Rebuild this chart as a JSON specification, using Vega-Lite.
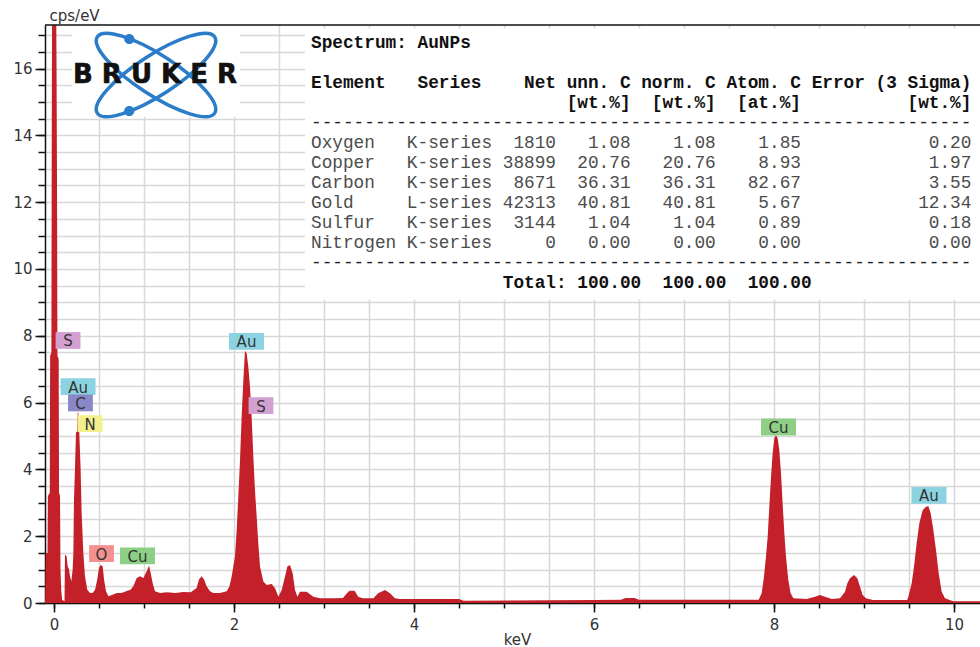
{
  "$schema": "https://vega.github.io/schema/vega-lite/v6.json",
  "width": 935,
  "height": 578,
  "autosize": {"type": "none"},
  "padding": {"left": 45, "top": 25, "right": 0, "bottom": 44},
  "background": "white",
  "config": {
    "view": {"stroke": null},
    "axis": {
      "domainColor": "#111111",
      "domainWidth": 1.5,
      "tickColor": "#111111",
      "tickWidth": 1.5,
      "gridColor": "#d8d8d8",
      "gridWidth": 1.5,
      "labelFont": "DejaVu Sans",
      "labelFontSize": 15,
      "labelColor": "#333333",
      "titleFont": "DejaVu Sans",
      "titleFontSize": 15,
      "titleFontWeight": "normal",
      "titleColor": "#333333",
      "labelOverlap": false
    }
  },
  "resolve": {"axis": {"x": "independent", "y": "independent"}},
  "datasets": {
    "spectrum": [
      {"keV": -0.1, "cps": 0}, {"keV": -0.097, "cps": 0.3}, {"keV": -0.092, "cps": 1.5}, {"keV": -0.072, "cps": 1.5},
      {"keV": -0.068, "cps": 3.2}, {"keV": -0.047, "cps": 3.3}, {"keV": -0.043, "cps": 7.4}, {"keV": -0.029, "cps": 7.5},
      {"keV": -0.025, "cps": 14}, {"keV": -0.02, "cps": 19}, {"keV": 0, "cps": 22}, {"keV": 0.024, "cps": 18},
      {"keV": 0.028, "cps": 16.2}, {"keV": 0.034, "cps": 12.3}, {"keV": 0.038, "cps": 7.4}, {"keV": 0.052, "cps": 7.3},
      {"keV": 0.056, "cps": 3.3}, {"keV": 0.067, "cps": 3.2}, {"keV": 0.072, "cps": 1.0}, {"keV": 0.08, "cps": 0.4},
      {"keV": 0.09, "cps": 0.1}, {"keV": 0.117, "cps": 0.05}, {"keV": 0.122, "cps": 1.45}, {"keV": 0.14, "cps": 1.4},
      {"keV": 0.152, "cps": 1.1}, {"keV": 0.167, "cps": 1.0}, {"keV": 0.178, "cps": 0.8}, {"keV": 0.193, "cps": 0.65},
      {"keV": 0.207, "cps": 1.0}, {"keV": 0.215, "cps": 1.5}, {"keV": 0.222, "cps": 3.1}, {"keV": 0.233, "cps": 4.0},
      {"keV": 0.244, "cps": 5.1}, {"keV": 0.258, "cps": 5.15}, {"keV": 0.263, "cps": 5.7}, {"keV": 0.27, "cps": 5.7},
      {"keV": 0.281, "cps": 5.1}, {"keV": 0.296, "cps": 4.0}, {"keV": 0.307, "cps": 2.7}, {"keV": 0.326, "cps": 1.5},
      {"keV": 0.344, "cps": 0.8}, {"keV": 0.37, "cps": 0.4}, {"keV": 0.4, "cps": 0.3}, {"keV": 0.43, "cps": 0.3},
      {"keV": 0.456, "cps": 0.4}, {"keV": 0.481, "cps": 0.7}, {"keV": 0.5, "cps": 1.05}, {"keV": 0.519, "cps": 1.14},
      {"keV": 0.541, "cps": 1.1}, {"keV": 0.556, "cps": 0.7}, {"keV": 0.578, "cps": 0.35}, {"keV": 0.604, "cps": 0.2},
      {"keV": 0.65, "cps": 0.25}, {"keV": 0.7, "cps": 0.3}, {"keV": 0.75, "cps": 0.3}, {"keV": 0.8, "cps": 0.35},
      {"keV": 0.85, "cps": 0.4}, {"keV": 0.881, "cps": 0.5}, {"keV": 0.919, "cps": 0.75}, {"keV": 0.956, "cps": 0.8},
      {"keV": 0.993, "cps": 0.75}, {"keV": 1.03, "cps": 0.95}, {"keV": 1.056, "cps": 1.12}, {"keV": 1.074, "cps": 0.9},
      {"keV": 1.096, "cps": 0.6}, {"keV": 1.122, "cps": 0.35}, {"keV": 1.178, "cps": 0.3}, {"keV": 1.25, "cps": 0.32},
      {"keV": 1.35, "cps": 0.3}, {"keV": 1.437, "cps": 0.33}, {"keV": 1.52, "cps": 0.32}, {"keV": 1.585, "cps": 0.45},
      {"keV": 1.611, "cps": 0.7}, {"keV": 1.641, "cps": 0.8}, {"keV": 1.667, "cps": 0.7}, {"keV": 1.696, "cps": 0.5},
      {"keV": 1.733, "cps": 0.35}, {"keV": 1.77, "cps": 0.3}, {"keV": 1.844, "cps": 0.3}, {"keV": 1.919, "cps": 0.35},
      {"keV": 1.95, "cps": 0.5}, {"keV": 1.974, "cps": 0.79}, {"keV": 2.011, "cps": 1.39}, {"keV": 2.03, "cps": 2.19},
      {"keV": 2.048, "cps": 3.18}, {"keV": 2.067, "cps": 4.28}, {"keV": 2.085, "cps": 5.58}, {"keV": 2.104, "cps": 6.68},
      {"keV": 2.122, "cps": 7.55}, {"keV": 2.141, "cps": 7.47}, {"keV": 2.159, "cps": 7.07}, {"keV": 2.178, "cps": 6.47},
      {"keV": 2.196, "cps": 5.58}, {"keV": 2.215, "cps": 4.38}, {"keV": 2.233, "cps": 3.38}, {"keV": 2.252, "cps": 2.58},
      {"keV": 2.27, "cps": 1.79}, {"keV": 2.289, "cps": 1.09}, {"keV": 2.326, "cps": 0.64}, {"keV": 2.363, "cps": 0.54},
      {"keV": 2.419, "cps": 0.57}, {"keV": 2.456, "cps": 0.44}, {"keV": 2.493, "cps": 0.19}, {"keV": 2.53, "cps": 0.39},
      {"keV": 2.567, "cps": 0.79}, {"keV": 2.593, "cps": 1.09}, {"keV": 2.622, "cps": 1.14}, {"keV": 2.652, "cps": 0.89},
      {"keV": 2.678, "cps": 0.39}, {"keV": 2.704, "cps": 0.19}, {"keV": 2.733, "cps": 0.34}, {"keV": 2.807, "cps": 0.34},
      {"keV": 2.881, "cps": 0.19}, {"keV": 2.956, "cps": 0.14}, {"keV": 3.1, "cps": 0.14}, {"keV": 3.21, "cps": 0.15},
      {"keV": 3.27, "cps": 0.34}, {"keV": 3.29, "cps": 0.37}, {"keV": 3.34, "cps": 0.37}, {"keV": 3.38, "cps": 0.19},
      {"keV": 3.43, "cps": 0.14}, {"keV": 3.55, "cps": 0.14}, {"keV": 3.6, "cps": 0.29}, {"keV": 3.678, "cps": 0.39},
      {"keV": 3.733, "cps": 0.29}, {"keV": 3.789, "cps": 0.14}, {"keV": 3.84, "cps": 0.12}, {"keV": 4.5, "cps": 0.12},
      {"keV": 4.55, "cps": 0.07}, {"keV": 5.5, "cps": 0.08}, {"keV": 6.0, "cps": 0.09}, {"keV": 6.3, "cps": 0.1},
      {"keV": 6.35, "cps": 0.15}, {"keV": 6.45, "cps": 0.15}, {"keV": 6.5, "cps": 0.1}, {"keV": 7.0, "cps": 0.1},
      {"keV": 7.5, "cps": 0.1}, {"keV": 7.83, "cps": 0.1}, {"keV": 7.863, "cps": 0.29}, {"keV": 7.889, "cps": 0.79},
      {"keV": 7.911, "cps": 1.39}, {"keV": 7.93, "cps": 1.99}, {"keV": 7.948, "cps": 2.88}, {"keV": 7.967, "cps": 3.78},
      {"keV": 7.985, "cps": 4.48}, {"keV": 8.004, "cps": 4.93}, {"keV": 8.022, "cps": 5.03}, {"keV": 8.041, "cps": 4.93},
      {"keV": 8.059, "cps": 4.58}, {"keV": 8.078, "cps": 3.88}, {"keV": 8.096, "cps": 2.98}, {"keV": 8.115, "cps": 2.09},
      {"keV": 8.133, "cps": 1.39}, {"keV": 8.159, "cps": 0.69}, {"keV": 8.185, "cps": 0.29}, {"keV": 8.215, "cps": 0.14},
      {"keV": 8.363, "cps": 0.12}, {"keV": 8.456, "cps": 0.19}, {"keV": 8.511, "cps": 0.24}, {"keV": 8.567, "cps": 0.19},
      {"keV": 8.641, "cps": 0.12}, {"keV": 8.733, "cps": 0.14}, {"keV": 8.789, "cps": 0.34}, {"keV": 8.815, "cps": 0.59},
      {"keV": 8.844, "cps": 0.74}, {"keV": 8.889, "cps": 0.84}, {"keV": 8.926, "cps": 0.74}, {"keV": 8.956, "cps": 0.49},
      {"keV": 8.985, "cps": 0.24}, {"keV": 9.022, "cps": 0.14}, {"keV": 9.1, "cps": 0.09}, {"keV": 9.48, "cps": 0.09},
      {"keV": 9.493, "cps": 0.19}, {"keV": 9.53, "cps": 0.59}, {"keV": 9.556, "cps": 1.09}, {"keV": 9.585, "cps": 1.79},
      {"keV": 9.615, "cps": 2.39}, {"keV": 9.652, "cps": 2.78}, {"keV": 9.689, "cps": 2.88}, {"keV": 9.715, "cps": 2.9},
      {"keV": 9.741, "cps": 2.69}, {"keV": 9.77, "cps": 2.19}, {"keV": 9.8, "cps": 1.59}, {"keV": 9.83, "cps": 0.89},
      {"keV": 9.863, "cps": 0.34}, {"keV": 9.9, "cps": 0.14}, {"keV": 9.99, "cps": 0.05}, {"keV": 10.289, "cps": 0.05}
    ],
    "peaks": [
      {"element": "S", "keV": 0.156, "cps": 7.86},
      {"element": "Au", "keV": 0.267, "cps": 6.48},
      {"element": "C", "keV": 0.294, "cps": 5.99},
      {"element": "N", "keV": 0.4, "cps": 5.37},
      {"element": "O", "keV": 0.528, "cps": 1.48},
      {"element": "Cu", "keV": 0.928, "cps": 1.41},
      {"element": "Au", "keV": 2.139, "cps": 7.83},
      {"element": "S", "keV": 2.3, "cps": 5.91},
      {"element": "Cu", "keV": 8.05, "cps": 5.27},
      {"element": "Au", "keV": 9.722, "cps": 3.22}
    ]
  },
  "layer": [
    {
      "data": {"name": "spectrum"},
      "mark": {"type": "area", "color": "#c3202a", "clip": true, "interpolate": "linear"},
      "encoding": {
        "x": {
          "field": "keV",
          "type": "quantitative",
          "scale": {"domain": [-0.1, 10.289], "nice": false, "zero": false},
          "axis": {
            "orient": "bottom",
            "title": "keV",
            "values": [0, 2, 4, 6, 8, 10],
            "format": "d",
            "grid": false,
            "tickSize": 9,
            "labelPadding": 5,
            "titleX": 472,
            "titleY": 41,
            "titleAlign": "center",
            "titleBaseline": "alphabetic"
          }
        },
        "y": {
          "field": "cps",
          "type": "quantitative",
          "scale": {"domain": [0, 17.305], "nice": false, "zero": true},
          "axis": {
            "orient": "left",
            "title": "cps/eV",
            "values": [0, 2, 4, 6, 8, 10, 12, 14, 16],
            "format": "d",
            "grid": false,
            "tickSize": 10,
            "labelPadding": 3,
            "titleAngle": 0,
            "titleX": 4,
            "titleY": -5,
            "titleAlign": "left",
            "titleBaseline": "alphabetic"
          }
        }
      }
    },
    {
      "data": {"values": [{}]},
      "mark": {"type": "rect", "fill": "white", "stroke": null},
      "encoding": {
        "x": {"datum": 0.2, "type": "quantitative", "axis": null},
        "x2": {"datum": 2.067},
        "y": {
          "datum": 14.56,
          "type": "quantitative",
          "axis": {
            "orient": "left",
            "values": [0, 0.5, 1, 1.5, 2, 2.5, 3, 3.5, 4, 4.5, 5, 5.5, 6, 6.5, 7, 7.5, 8, 8.5, 9, 9.5, 10, 10.5, 11, 11.5, 12, 12.5, 13, 13.5, 14, 14.5, 15, 15.5, 16, 16.5, 17],
            "labels": false,
            "title": null,
            "domain": false,
            "grid": true,
            "tickSize": 7
          }
        },
        "y2": {"datum": 17.305}
      }
    },
    {
      "data": {"values": [{}]},
      "mark": {"type": "rect", "fill": "white", "stroke": null},
      "encoding": {
        "x": {
          "datum": 2.789,
          "type": "quantitative",
          "axis": {
            "orient": "bottom",
            "values": [0, 0.5, 1, 1.5, 2, 2.5, 3, 3.5, 4, 4.5, 5, 5.5, 6, 6.5, 7, 7.5, 8, 8.5, 9, 9.5, 10],
            "labels": false,
            "title": null,
            "domain": false,
            "grid": true,
            "tickSize": 5
          }
        },
        "x2": {"datum": 10.289},
        "y": {"datum": 9.08, "type": "quantitative", "axis": null},
        "y2": {"datum": 17.2}
      }
    },
    {
      "data": {"values": [{}]},
      "mark": {"type": "rule", "color": "#111111", "strokeWidth": 1.5},
      "encoding": {"y": {"datum": 17.305, "type": "quantitative", "axis": null}}
    },
    {
      "data": {"name": "peaks"},
      "mark": {"type": "point", "filled": true, "opacity": 1, "size": 1225, "strokeWidth": 0},
      "encoding": {
        "x": {"field": "keV", "type": "quantitative", "axis": null},
        "y": {"field": "cps", "type": "quantitative", "axis": null},
        "color": {
          "field": "element",
          "type": "nominal",
          "scale": {"domain": ["Au", "S", "C", "N", "O", "Cu"], "range": ["#8cd3e2", "#d3a0d2", "#8a88c9", "#f3ef8c", "#f4918e", "#8ecf86"]},
          "legend": null
        },
        "shape": {
          "condition": {"test": "length(datum.element) > 1", "value": "M-1,-0.48H1V0.48H-1Z"},
          "value": "M-0.71,-0.48H0.71V0.48H-0.71Z"
        }
      }
    },
    {
      "data": {"name": "peaks"},
      "mark": {"type": "text", "font": "DejaVu Sans", "fontSize": 15, "color": "#333333", "align": "center", "baseline": "middle", "dy": 1},
      "encoding": {
        "x": {"field": "keV", "type": "quantitative", "axis": null},
        "y": {"field": "cps", "type": "quantitative", "axis": null},
        "text": {"field": "element", "type": "nominal"}
      }
    },
    {
      "data": {"values": [{}]},
      "mark": {
        "type": "point",
        "shape": "M-0.9785,-0.6354A1.1667,0.3333,33,1,0,0.9785,0.6354A1.1667,0.3333,33,1,0,-0.9785,-0.6354Z M-0.9785,0.6354A1.1667,0.3333,-33,1,0,0.9785,-0.6354A1.1667,0.3333,-33,1,0,-0.9785,0.6354Z",
        "size": 14400,
        "filled": false,
        "stroke": "#2b7cc9",
        "strokeWidth": 3.5,
        "opacity": 1
      },
      "encoding": {
        "x": {"datum": 1.1333, "type": "quantitative", "axis": null},
        "y": {"datum": 15.808, "type": "quantitative", "axis": null}
      }
    },
    {
      "data": {"values": [{}]},
      "mark": {
        "type": "point",
        "shape": "M-0.53,-0.6A0.085,0.085,0,1,0,-0.36,-0.6A0.085,0.085,0,1,0,-0.53,-0.6Z M-0.53,0.6A0.085,0.085,0,1,0,-0.36,0.6A0.085,0.085,0,1,0,-0.53,0.6Z",
        "size": 14400,
        "filled": true,
        "color": "#2b7cc9",
        "strokeWidth": 0,
        "opacity": 1
      },
      "encoding": {
        "x": {"datum": 1.1333, "type": "quantitative", "axis": null},
        "y": {"datum": 15.808, "type": "quantitative", "axis": null}
      }
    },
    {
      "data": {"values": [{}]},
      "mark": {
        "type": "text",
        "text": "B R U K E R",
        "font": "DejaVu Sans",
        "fontSize": 26,
        "fontWeight": "bold",
        "fill": "#111111",
        "stroke": "#111111",
        "strokeWidth": 0.6,
        "align": "center",
        "baseline": "alphabetic"
      },
      "encoding": {
        "x": {"datum": 1.1222, "type": "quantitative", "axis": null},
        "y": {"datum": 15.56, "type": "quantitative", "axis": null}
      }
    },
    {
      "data": {"values": [{}]},
      "mark": {
        "type": "text",
        "font": "Liberation Mono",
        "fontSize": 17.75,
        "fontWeight": "bold",
        "color": "#111111",
        "align": "left",
        "baseline": "alphabetic",
        "text": "Spectrum:\u00a0AuNPs"
      },
      "encoding": {
        "x": {"datum": 2.8556, "type": "quantitative", "axis": null},
        "y": {"datum": 16.608, "type": "quantitative", "axis": null}
      }
    },
    {
      "data": {"values": [{}]},
      "mark": {
        "type": "text",
        "font": "Liberation Mono",
        "fontSize": 17.75,
        "fontWeight": "bold",
        "color": "#111111",
        "align": "left",
        "baseline": "alphabetic",
        "lineHeight": 20,
        "text": [
          "Element\u00a0\u00a0\u00a0Series\u00a0\u00a0\u00a0\u00a0Net\u00a0unn.\u00a0C\u00a0norm.\u00a0C\u00a0Atom.\u00a0C\u00a0Error\u00a0(3\u00a0Sigma)",
          "\u200b\u00a0\u00a0\u00a0\u00a0\u00a0\u00a0\u00a0\u00a0\u00a0\u00a0\u00a0\u00a0\u00a0\u00a0\u00a0\u00a0\u00a0\u00a0\u00a0\u00a0\u00a0\u00a0\u00a0\u00a0[wt.%]\u00a0\u00a0[wt.%]\u00a0\u00a0[at.%]\u00a0\u00a0\u00a0\u00a0\u00a0\u00a0\u00a0\u00a0\u00a0\u00a0[wt.%]"
        ]
      },
      "encoding": {
        "x": {"datum": 2.8556, "type": "quantitative", "axis": null},
        "y": {"datum": 15.41, "type": "quantitative", "axis": null}
      }
    },
    {
      "data": {"values": [{}]},
      "mark": {
        "type": "text",
        "font": "Liberation Mono",
        "fontSize": 17.75,
        "color": "#222222",
        "align": "left",
        "baseline": "alphabetic",
        "text": "--------------------------------------------------------------"
      },
      "encoding": {
        "x": {"datum": 2.8556, "type": "quantitative", "axis": null},
        "y": {"datum": 14.213, "type": "quantitative", "axis": null}
      }
    },
    {
      "data": {"values": [{}]},
      "mark": {
        "type": "text",
        "font": "Liberation Mono",
        "fontSize": 17.75,
        "color": "#4c4c4c",
        "align": "left",
        "baseline": "alphabetic",
        "lineHeight": 20,
        "text": [
          "Oxygen\u00a0\u00a0\u00a0K-series\u00a0\u00a01810\u00a0\u00a0\u00a01.08\u00a0\u00a0\u00a0\u00a01.08\u00a0\u00a0\u00a0\u00a01.85\u00a0\u00a0\u00a0\u00a0\u00a0\u00a0\u00a0\u00a0\u00a0\u00a0\u00a0\u00a00.20",
          "Copper\u00a0\u00a0\u00a0K-series\u00a038899\u00a0\u00a020.76\u00a0\u00a0\u00a020.76\u00a0\u00a0\u00a0\u00a08.93\u00a0\u00a0\u00a0\u00a0\u00a0\u00a0\u00a0\u00a0\u00a0\u00a0\u00a0\u00a01.97",
          "Carbon\u00a0\u00a0\u00a0K-series\u00a0\u00a08671\u00a0\u00a036.31\u00a0\u00a0\u00a036.31\u00a0\u00a0\u00a082.67\u00a0\u00a0\u00a0\u00a0\u00a0\u00a0\u00a0\u00a0\u00a0\u00a0\u00a0\u00a03.55",
          "Gold\u00a0\u00a0\u00a0\u00a0\u00a0L-series\u00a042313\u00a0\u00a040.81\u00a0\u00a0\u00a040.81\u00a0\u00a0\u00a0\u00a05.67\u00a0\u00a0\u00a0\u00a0\u00a0\u00a0\u00a0\u00a0\u00a0\u00a0\u00a012.34",
          "Sulfur\u00a0\u00a0\u00a0K-series\u00a0\u00a03144\u00a0\u00a0\u00a01.04\u00a0\u00a0\u00a0\u00a01.04\u00a0\u00a0\u00a0\u00a00.89\u00a0\u00a0\u00a0\u00a0\u00a0\u00a0\u00a0\u00a0\u00a0\u00a0\u00a0\u00a00.18",
          "Nitrogen\u00a0K-series\u00a0\u00a0\u00a0\u00a0\u00a00\u00a0\u00a0\u00a00.00\u00a0\u00a0\u00a0\u00a00.00\u00a0\u00a0\u00a0\u00a00.00\u00a0\u00a0\u00a0\u00a0\u00a0\u00a0\u00a0\u00a0\u00a0\u00a0\u00a0\u00a00.00"
        ]
      },
      "encoding": {
        "x": {"datum": 2.8556, "type": "quantitative", "axis": null},
        "y": {"datum": 13.614, "type": "quantitative", "axis": null}
      }
    },
    {
      "data": {"values": [{}]},
      "mark": {
        "type": "text",
        "font": "Liberation Mono",
        "fontSize": 17.75,
        "color": "#222222",
        "align": "left",
        "baseline": "alphabetic",
        "text": "--------------------------------------------------------------"
      },
      "encoding": {
        "x": {"datum": 2.8556, "type": "quantitative", "axis": null},
        "y": {"datum": 10.022, "type": "quantitative", "axis": null}
      }
    },
    {
      "data": {"values": [{}]},
      "mark": {
        "type": "text",
        "font": "Liberation Mono",
        "fontSize": 17.75,
        "fontWeight": "bold",
        "color": "#111111",
        "align": "left",
        "baseline": "alphabetic",
        "text": "\u200b\u00a0\u00a0\u00a0\u00a0\u00a0\u00a0\u00a0\u00a0\u00a0\u00a0\u00a0\u00a0\u00a0\u00a0\u00a0\u00a0\u00a0\u00a0Total:\u00a0100.00\u00a0\u00a0100.00\u00a0\u00a0100.00"
      },
      "encoding": {
        "x": {"datum": 2.8556, "type": "quantitative", "axis": null},
        "y": {"datum": 9.423, "type": "quantitative", "axis": null}
      }
    }
  ]
}
